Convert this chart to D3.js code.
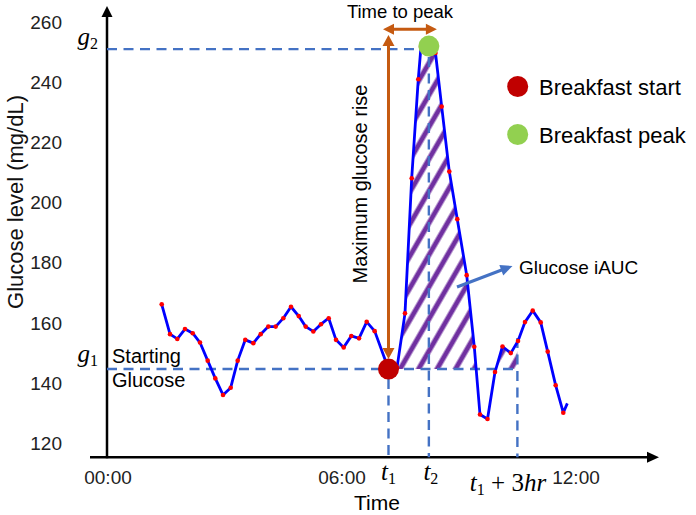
<!DOCTYPE html>
<html>
<head>
<meta charset="utf-8">
<script src="https://cdn.jsdelivr.net/npm/d3@7/dist/d3.min.js"></script>
<style>
  html, body { margin: 0; padding: 0; background: #fff; }
  svg { display: block; font-family: "Liberation Sans", Arial, sans-serif; }
</style>
</head>
<body>
<svg id="chart" width="696" height="515"></svg>
<script>
// ---------------- DATA ----------------
const hours = [1.390, 1.603, 1.790, 1.987, 2.185, 2.372, 2.569, 2.764, 2.962, 3.159,
  3.338, 3.533, 3.738, 3.928, 4.123, 4.313, 4.508, 4.705, 4.903, 5.082,
  5.277, 5.474, 5.672, 5.859, 6.056, 6.251, 6.449, 6.646, 6.851, 7.205,
  7.423, 7.628, 7.800, 7.969, 8.038, 8.231, 8.410, 8.569, 8.764, 8.969,
  9.210, 9.405, 9.551, 9.744, 9.936, 10.128, 10.341, 10.526, 10.705, 10.903,
  11.108, 11.287, 11.492, 11.687, 11.790];
const glucose = [166.2, 156.3, 154.7, 158.0, 156.6, 153.5, 147.5, 141.6, 136.1, 138.5,
  147.5, 154.4, 153.3, 156.3, 158.8, 158.8, 161.6, 165.4, 162.3, 158.8,
  157.2, 159.6, 161.6, 154.4, 151.9, 155.7, 154.9, 160.4, 157.3, 144.7,
  145.1, 163.2, 208.1, 241.0, 251.7, 252.0, 249.7, 231.9, 210.3, 194.5,
  175.9, 152.1, 129.6, 128.1, 143.7, 152.2, 150.0, 154.0, 160.3, 164.1,
  160.2, 150.5, 139.3, 130.2, 133.3];

const yTickValues = [120, 140, 160, 180, 200, 220, 240, 260];
const xTickValues = [0, 6, 12];
const xTickLabels = ["00:00", "06:00", "12:00"];

const t1 = 7.205;        // breakfast start time (h)
const tPeak = 8.24;      // breakfast peak time (h)
const t3 = 10.51;        // t1 + 3hr marker (h)
const g1 = 144.7;        // starting glucose
const g2 = 251;          // peak glucose (line)
const peakValue = 252;   // peak marker

const legendLabels = ["Breakfast start", "Breakfast peak"];
const legendColors = ["#C00000", "#92D050"];

// ---------------- CHART ----------------
const svg = d3.select("#chart");
const x = d3.scaleLinear().domain([0, 12]).range([107.5, 575.5]);
const y = d3.scaleLinear().domain([120, 260]).range([443.4, 22]);

const data = hours.map((h, i) => ({ h, v: glucose[i] }));

const blue = "#4472C4";
const orange = "#C55A11";

const defs = svg.append("defs");
const pat = defs.append("pattern")
  .attr("id", "hatch").attr("patternUnits", "userSpaceOnUse")
  .attr("width", 16).attr("height", 16)
  .attr("patternTransform", "rotate(30)");
pat.append("line").attr("x1", 3).attr("x2", 3).attr("y1", -2).attr("y2", 18)
  .attr("stroke", "#7030A0").attr("stroke-width", 5);

defs.append("clipPath").attr("id", "aucClip")
  .append("rect")
  .attr("x", x(t1)).attr("y", 0)
  .attr("width", x(t3) - x(t1)).attr("height", y(g1));

// axis tick labels
const yAxis = d3.axisLeft(y).tickValues(yTickValues).tickSize(0).tickPadding(0);
const gy = svg.append("g").attr("transform", "translate(62,0)").call(yAxis);
gy.select(".domain").remove();
gy.selectAll("text").attr("font-size", 19).attr("fill", "#222")
  .attr("font-family", "Liberation Sans, Arial, sans-serif");

const xAxis = d3.axisBottom(x).tickValues(xTickValues).tickSize(0).tickPadding(0)
  .tickFormat((d, i) => xTickLabels[i]);
const gx = svg.append("g").attr("transform", "translate(0,470)").call(xAxis);
gx.select(".domain").remove();
gx.selectAll("text").attr("font-size", 19).attr("fill", "#222")
  .attr("font-family", "Liberation Sans, Arial, sans-serif");

// axis lines with arrows
const axisX0 = x(0) - 0.5;
const axisY = 457.3;
svg.append("line").attr("x1", axisX0).attr("x2", axisX0).attr("y1", axisY + 1).attr("y2", 14)
  .attr("stroke", "#000").attr("stroke-width", 2.5);
svg.append("path").attr("d", `M${axisX0},6 L${axisX0 - 5.5},17 L${axisX0 + 5.5},17 Z`).attr("fill", "#000");
svg.append("line").attr("x1", 90).attr("x2", 650).attr("y1", axisY).attr("y2", axisY)
  .attr("stroke", "#000").attr("stroke-width", 2.5);
svg.append("path").attr("d", `M659,${axisY} L647,${axisY - 5.5} L647,${axisY + 5.5} Z`).attr("fill", "#000");

// hatched iAUC
const area = d3.area().x(d => x(d.h)).y0(y(g1)).y1(d => y(d.v));
svg.append("g").attr("clip-path", "url(#aucClip)")
  .append("path").attr("d", area(data)).attr("fill", "url(#hatch)");

// dashed reference lines
const dash = "10,6.5";
function dline(x1, y1, x2, y2) {
  svg.append("line").attr("x1", x1).attr("y1", y1).attr("x2", x2).attr("y2", y2)
    .attr("stroke", blue).attr("stroke-width", 2.4).attr("stroke-dasharray", dash);
}
dline(axisX0, y(g2), x(tPeak) - 8, y(g2));
dline(axisX0, y(g1), x(t3), y(g1));
dline(x(t1), y(g1) + 10, x(t1), axisY);
dline(x(tPeak), y(g2) + 8, x(tPeak), axisY);
dline(x(t3), y(155), x(t3), axisY);

// glucose line
const line = d3.line().x(d => x(d.h)).y(d => y(d.v));
svg.append("path").attr("d", line(data)).attr("fill", "none")
  .attr("stroke", "#0000FF").attr("stroke-width", 2.8).attr("stroke-linejoin", "round");
svg.selectAll(".dot").data(data.slice(0, -1)).enter().append("circle")
  .attr("cx", d => x(d.h)).attr("cy", d => y(d.v)).attr("r", 2.3).attr("fill", "#FF0000");

// start and peak markers
svg.append("circle").attr("cx", x(t1)).attr("cy", y(g1)).attr("r", 10.5).attr("fill", legendColors[0]);
svg.append("circle").attr("cx", x(tPeak)).attr("cy", y(peakValue)).attr("r", 10.5).attr("fill", legendColors[1]);

// orange arrows
function arrowHead(tx, ty, dir, color, len, hw) {
  const [dx, dy] = dir;
  const bx = tx - dx * len, by = ty - dy * len;
  const px = -dy * hw, py = dx * hw;
  svg.append("path").attr("d", `M${tx},${ty} L${bx + px},${by + py} L${bx - px},${by - py} Z`).attr("fill", color);
}
const riseTop = 35, riseBottom = y(g1) - 10;
svg.append("line").attr("x1", x(t1)).attr("x2", x(t1)).attr("y1", riseTop + 8).attr("y2", riseBottom - 8)
  .attr("stroke", orange).attr("stroke-width", 3);
arrowHead(x(t1), riseTop, [0, -1], orange, 11, 6);
arrowHead(x(t1), riseBottom, [0, 1], orange, 11, 6);

const tpY = 29.3, tpL = x(t1) - 5.5, tpR = x(tPeak) + 8;
svg.append("line").attr("x1", tpL + 8).attr("x2", tpR - 8).attr("y1", tpY).attr("y2", tpY)
  .attr("stroke", orange).attr("stroke-width", 3);
arrowHead(tpL, tpY, [-1, 0], orange, 11, 5.5);
arrowHead(tpR, tpY, [1, 0], orange, 11, 5.5);

// iAUC arrow
svg.append("line").attr("x1", 457).attr("y1", 287).attr("x2", 503).attr("y2", 269.5)
  .attr("stroke", blue).attr("stroke-width", 3);
arrowHead(512.5, 266, [0.935, -0.355], blue, 12, 5.5);

// texts
const sans = "Liberation Sans, Arial, sans-serif";
function txt(s, xx, yy, size, anchor) {
  return svg.append("text").attr("x", xx).attr("y", yy).attr("font-size", size)
    .attr("text-anchor", anchor || "start").attr("font-family", sans).attr("fill", "#000").text(s);
}
txt("Time to peak", 400, 18, 18.5, "middle");
txt("Glucose iAUC", 519, 274, 19);
txt("Starting", 112, 363, 20);
txt("Glucose", 112, 387, 20);
txt("Time", 377, 510, 21, "middle");

svg.append("text").attr("transform", "translate(23,202) rotate(-90)")
  .attr("text-anchor", "middle").attr("font-size", 22).attr("font-family", sans).attr("fill", "#111")
  .text("Glucose level (mg/dL)");
svg.append("text").attr("transform", "translate(367,184) rotate(-90)")
  .attr("text-anchor", "middle").attr("font-size", 20).attr("font-family", sans).attr("fill", "#000")
  .text("Maximum glucose rise");

// legend
legendLabels.forEach((lab, i) => {
  const cy = 86.5 + i * 48;
  svg.append("circle").attr("cx", 517.7).attr("cy", cy).attr("r", 10.5).attr("fill", legendColors[i]);
  txt(lab, 539, cy + 8, 22);
});

// math labels
const serif = "Liberation Serif, 'DejaVu Serif', serif";
function mathLabel(parts, xx, yy, anchor) {
  const t = svg.append("text").attr("x", xx).attr("y", yy).attr("text-anchor", anchor)
    .attr("font-family", serif).attr("fill", "#000");
  parts.forEach(p => {
    const ts = t.append("tspan").text(p.s).attr("font-size", p.sub ? 16 : 25)
      .attr("font-style", p.it ? "italic" : "normal");
    if (p.dy) ts.attr("dy", p.dy);
  });
  return t;
}
mathLabel([{ s: "g", it: true }, { s: "2", sub: true, dy: 4 }], 98, 45, "end");
mathLabel([{ s: "g", it: true }, { s: "1", sub: true, dy: 4 }], 98, 362, "end");
mathLabel([{ s: "t", it: true }, { s: "1", sub: true, dy: 4 }], x(t1), 480, "middle");
mathLabel([{ s: "t", it: true }, { s: "2", sub: true, dy: 4 }], x(tPeak) + 2, 480, "middle");
mathLabel([{ s: "t", it: true }, { s: "1", sub: true, dy: 4 }, { s: " + 3", dy: -4 }, { s: "hr", it: true }],
  508, 491, "middle");
</script>
</body>
</html>
